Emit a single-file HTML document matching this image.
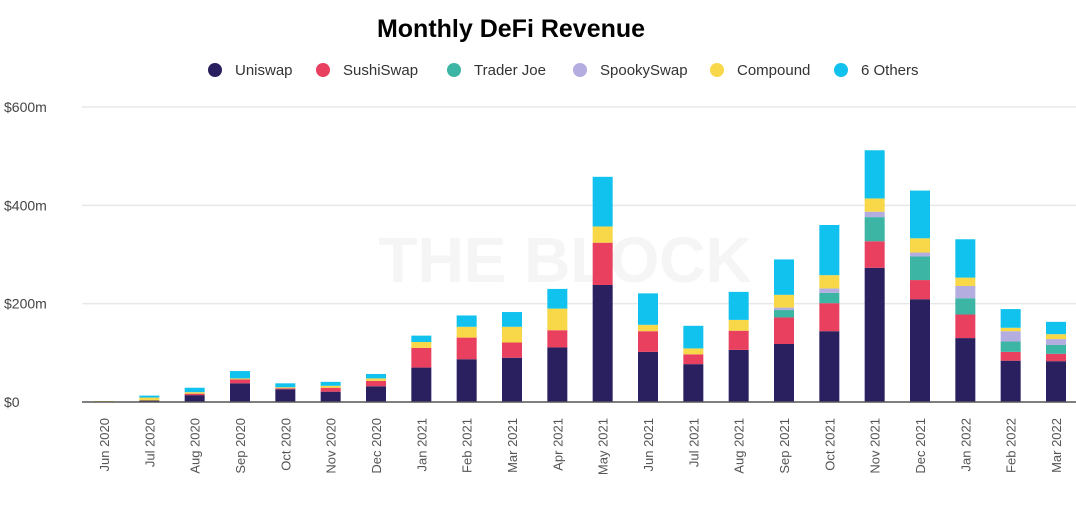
<!DOCTYPE html>
<html><head><meta charset="utf-8"><style>
body{margin:0;background:#fff;width:1076px;height:503px;overflow:hidden;font-family:"Liberation Sans",sans-serif}
</style></head><body>
<svg id="chart" width="1076" height="503" xmlns="http://www.w3.org/2000/svg">
<text x="511" y="37" text-anchor="middle" font-size="25" font-weight="bold" fill="#000">Monthly DeFi Revenue</text>
<text x="565" y="282" text-anchor="middle" font-size="64" font-weight="bold" fill="#f5f5f5">THE BLOCK</text>
<g id="legend"></g>
<g id="grid"></g><g id="bars"></g><g id="axes"></g>
</svg>
<script>
const months=["Jun 2020","Jul 2020","Aug 2020","Sep 2020","Oct 2020","Nov 2020","Dec 2020","Jan 2021","Feb 2021","Mar 2021","Apr 2021","May 2021","Jun 2021","Jul 2021","Aug 2021","Sep 2021","Oct 2021","Nov 2021","Dec 2021","Jan 2022","Feb 2022","Mar 2022"];
const seriesNames=["Uniswap","SushiSwap","Trader Joe","SpookySwap","Compound","6 Others"];
const uniswap=[1,3,14,38,26,21,32,70,87,90,111,238,102,77,106,118,144,273,209,130,84,83];
const sushiswap=[0,0,3,8,2,8,11,40,44,31,35,86,42,20,39,54,57,54,39,48,18,15];
const traderJoe=[0,0,0,0,0,0,0,0,0,0,0,0,0,0,0,15,21,49,48,33,21,18];
const spookySwap=[0,0,0,0,0,0,0,0,0,0,0,0,0,0,0,5,9,11,8,25,21,12];
const compound=[1,6,3,2,2,4,5,12,22,32,44,33,13,12,22,26,27,27,29,17,7,10];
const others=[0,4,9,15,8,8,9,13,23,30,40,101,64,46,57,72,102,98,97,78,38,25];
const yTicks=[0,200,400,600];
const yTickLabels=["$0","$200m","$400m","$600m"];
const colors=["#2a2060","#e8405e","#3cb5a4","#b4aee0","#f8d848","#12c2ee"];
const NS="http://www.w3.org/2000/svg";
const y0=402,y600=107,plotL=82,plotR=1076;
function yS(v){return y0-(v/600)*(y0-y600);}
function xS(i){return 104+i*(1056-104)/(months.length-1);}
function mk(tag,attrs,parent){const e=document.createElementNS(NS,tag);for(const k in attrs)e.setAttribute(k,attrs[k]);parent.appendChild(e);return e;}
const grid=document.getElementById('grid'),bars=document.getElementById('bars'),axes=document.getElementById('axes'),legend=document.getElementById('legend');
yTicks.forEach((t,i)=>{
 if(t>0){const l=mk('line',{x1:plotL,x2:plotR,y1:yS(t),y2:yS(t),stroke:'#e8e8e8','stroke-width':1.5},grid);
 
 }
 const tx=mk('text',{x:4,y:yS(t)+5,'font-size':14,fill:'#444'},axes);tx.textContent=yTickLabels[i];
 
 
});
const base=mk('line',{x1:plotL,x2:plotR,y1:y0,y2:y0,stroke:'#555','stroke-width':1.5},axes);


const all=[uniswap,sushiswap,traderJoe,spookySwap,compound,others];
months.forEach((m,i)=>{
 let acc=0;const x=xS(i)-10;
 all.forEach((s,si)=>{const v=s[i];if(v<=0)return;
  const r=mk('rect',{x:x,y:yS(acc+v),width:20,height:yS(acc)-yS(acc+v),fill:colors[si]},bars);
  
  
  acc+=v;});
 const t=mk('text',{x:0,y:0,'font-size':13,fill:'#555','text-anchor':'end',transform:`translate(${xS(i)+5},418) rotate(-90)`},axes);
 t.textContent=m;
 
 
});
const lx=[215,323,454,580,717,841];
seriesNames.forEach((n,i)=>{
 const c=mk('circle',{cx:lx[i],cy:70,r:7,fill:colors[i]},legend);
 
 
 const t=mk('text',{x:lx[i]+20,y:75,'font-size':15,fill:'#333'},legend);t.textContent=n;
 
 
});
</script>
</body></html>
